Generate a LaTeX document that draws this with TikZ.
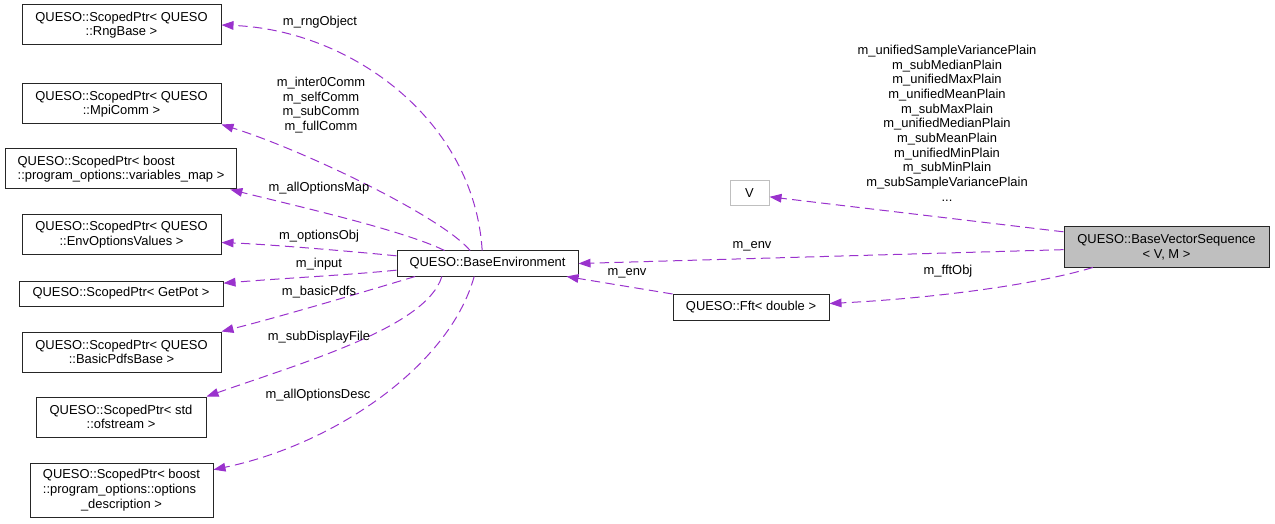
\documentclass[tikz,border=0pt]{standalone}
\usepackage{fontspec}
\setmainfont{Liberation Sans}
\usepackage{tikz}
\usetikzlibrary{arrows.meta}
\usepackage{xcolor}
\definecolor{member}{HTML}{9A32CD}
\definecolor{focus}{HTML}{BFBFBF}

\begin{document}
\begin{tikzpicture}[x=0.75pt, y=-0.75pt,
  font=\fontsize{9.7}{11}\selectfont,
  cls/.style={draw=black!85, line width=0.75pt, align=center, inner sep=0pt, minimum width=149.25pt, minimum height=30pt},
  use/.style={draw=member, line width=0.75pt, dash pattern=on 7pt off 4pt, -{Triangle[length=9pt,width=6.5pt]}},
  lbl/.style={align=center, inner sep=0pt}]
  \useasboundingbox (0,0) rectangle (1275,524);

  % left column: the ScopedPtr members
  \node[cls] (rng) at (121.5,25) {QUESO::ScopedPtr< QUESO\\::RngBase >};
  \node[cls] (mpi) at (121.5,104) {QUESO::ScopedPtr< QUESO\\::MpiComm >};
  \node[cls, minimum width=173.25pt, align=left] (vmap) at (121,169) {QUESO::ScopedPtr< boost\\::program\_options::variables\_map >};
  \node[cls] (envopt) at (121.5,234.5) {QUESO::ScopedPtr< QUESO\\::EnvOptionsValues >};
  \node[cls, minimum width=153pt, minimum height=18.75pt] (getpot) at (121,293.5) {QUESO::ScopedPtr< GetPot >};
  \node[cls] (pdfs) at (121.5,352) {QUESO::ScopedPtr< QUESO\\::BasicPdfsBase >};
  \node[cls, minimum width=127.5pt] (ofs) at (121,417) {QUESO::ScopedPtr< std\\::ofstream >};
  \node[cls, minimum width=137.25pt, minimum height=40.5pt] (desc) at (121.5,490.5) {\begin{tabular}{@{}l@{}}QUESO::ScopedPtr< boost\\::program\_options::options\\\multicolumn{1}{@{}c@{}}{\_description >}\end{tabular}};

  % middle and right
  \node[cls, minimum width=135.75pt, minimum height=18.75pt] (env) at (487.5,263.5) {QUESO::BaseEnvironment};
  \node[cls, minimum width=117pt, minimum height=19.5pt] (fft) at (751,307.5) {QUESO::Fft< double >};
  \node[cls, draw=focus, minimum width=29.25pt, minimum height=18.75pt] (vbox) at (749.5,193.5) {V};
  \node[cls, fill=focus, minimum width=153.75pt] (bvs) at (1166.5,247) {QUESO::BaseVectorSequence\\< V, M >};

  % member edges
  \draw[use] ([xshift=-4pt]env.north) .. controls +(-8,-130) and +(130,5) .. (rng.east);
  \draw[use] ([xshift=-13pt]env.north) .. controls +(-30,-35) and +(80,25) .. (mpi.south east);
  \draw[use] ([xshift=36pt]env.north west) .. controls +(-40,-20) and +(60,15) .. ([xshift=-5pt]vmap.south east);
  \draw[use] ([yshift=-4pt]env.north west) .. controls +(-40,-4) and +(50,2) .. ([yshift=-6pt]envopt.east);
  \draw[use] ([yshift=-5pt]env.west) .. controls +(-50,5) and +(60,-5) .. ([yshift=-2pt]getpot.north east);
  \draw[use] ([xshift=14pt]env.south west) .. controls +(-40,12) and +(60,-15) .. (pdfs.north east);
  \draw[use] ([xshift=34pt]env.south west) .. controls +(-15,50) and +(100,-35) .. (ofs.north east);
  \draw[use] ([xshift=-10pt]env.south) .. controls +(-25,90) and +(120,-25) .. ([yshift=-5pt]desc.north east);
  \draw[use] ([yshift=-2pt]bvs.west) -- (env.east);
  \draw[use] (fft.north west) -- ([xshift=-9pt]env.south east);
  \draw[use] ([yshift=-4pt]bvs.north west) -- ([yshift=-2.5pt]vbox.east);
  \draw[use] ([xshift=22pt]bvs.south west) .. controls +(-60,18) and +(100,-5) .. ([yshift=3pt]fft.east);

  % edge labels
  \node[lbl] (lrng) at (320,22) {m\_rngObject};
  \node[lbl] (lmpi) at (321,105) {m\_inter0Comm\\m\_selfComm\\m\_subComm\\m\_fullComm};
  \node[lbl] (lvmap) at (319,188) {m\_allOptionsMap};
  \node[lbl] (lenvopt) at (319,236) {m\_optionsObj};
  \node[lbl] (lgetpot) at (319,264) {m\_input};
  \node[lbl] (lpdfs) at (319,292) {m\_basicPdfs};
  \node[lbl] (lofs) at (319,337) {m\_subDisplayFile};
  \node[lbl] (ldesc) at (318,395) {m\_allOptionsDesc};
  \node[lbl] (lenv) at (752,246) {m\_env};
  \node[lbl] (lfftenv) at (627,273) {m\_env};
  \node[lbl] (lfft) at (948,271) {m\_fftObj};
  \node[lbl] (lv) at (947,123) {m\_unifiedSampleVariancePlain\\m\_subMedianPlain\\m\_unifiedMaxPlain\\m\_unifiedMeanPlain\\m\_subMaxPlain\\m\_unifiedMedianPlain\\m\_subMeanPlain\\m\_unifiedMinPlain\\m\_subMinPlain\\m\_subSampleVariancePlain\\...};
\end{tikzpicture}
\end{document}
